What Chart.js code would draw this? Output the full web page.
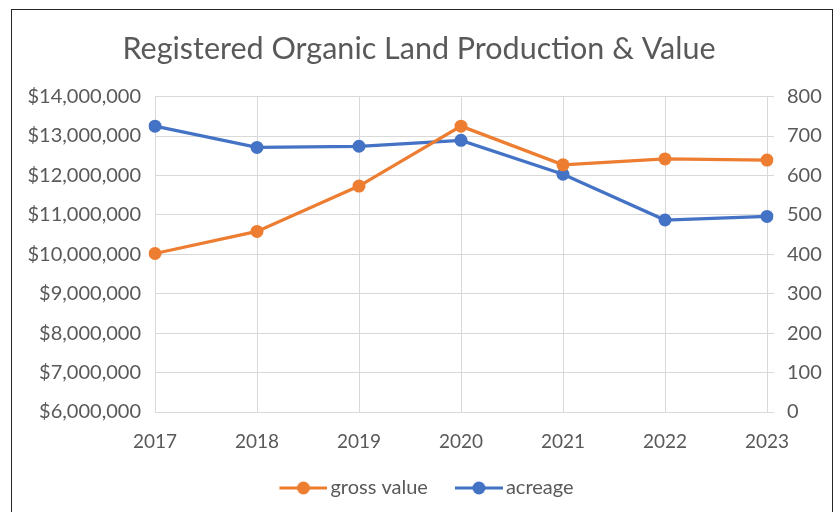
<!DOCTYPE html>
<html>
<head>
<meta charset="utf-8">
<script src="https://cdn.jsdelivr.net/npm/chart.js@4.4.1/dist/chart.umd.min.js"></script>
<style>
    html, body { margin: 0; padding: 0; background: #fff; }
    #wrap { position: relative; width: 838px; height: 512px; overflow: hidden; }
    #frame { position: absolute; left: 11px; top: 9px; width: 820px; height: 600px; border: 1px solid #262626; pointer-events: none; }
    canvas { position: absolute; left: 0; top: 0; }
</style>
</head>
<body>
<div id="wrap">
    <canvas id="chart" width="838" height="512"></canvas>
    <div id="frame"></div>
</div>
<script>
const years = ['2017', '2018', '2019', '2020', '2021', '2022', '2023'];
const grossValue = [10020000, 10580000, 11730000, 13250000, 12270000, 12420000, 12390000];
const acreage = [725, 671, 674, 689, 603, 487, 496];
const valueTicks = [6000000, 7000000, 8000000, 9000000, 10000000, 11000000, 12000000, 13000000, 14000000];
const acreTicks = [0, 100, 200, 300, 400, 500, 600, 700, 800];

const ORANGE = '#ED7D31';
const BLUE = '#4472C4';
const TEXT = '#595959';
const GRID = '#D9D9D9';
const FONT = 'Lato, "Open Sans", sans-serif';

// legend sample: short line with a dot, drawn with a blank margin on the left
function legendIcon(color) {
    const c = document.createElement('canvas');
    c.width = 60;
    c.height = 14;
    const ctx = c.getContext('2d');
    ctx.strokeStyle = color;
    ctx.lineWidth = 3;
    ctx.beginPath();
    ctx.moveTo(12, 7);
    ctx.lineTo(60, 7);
    ctx.stroke();
    ctx.fillStyle = color;
    ctx.beginPath();
    ctx.arc(36, 7, 6.5, 0, Math.PI * 2);
    ctx.fill();
    return c;
}

const icons = [legendIcon(ORANGE), legendIcon(BLUE)];

// nudge the legend row a little to the right
const legendShift = {
    id: 'legendShift',
    afterLayout(chart) {
        chart.legend.left += 5;
        chart.legend.right += 5;
    }
};

new Chart(document.getElementById('chart'), {
    type: 'line',
    data: {
        labels: years,
        datasets: [{
            label: 'gross value',
            data: grossValue,
            yAxisID: 'y',
            borderColor: ORANGE,
            backgroundColor: ORANGE,
            borderWidth: 3.25,
            pointRadius: 6.5,
            pointBorderWidth: 0,
            tension: 0
        }, {
            label: 'acreage',
            data: acreage,
            yAxisID: 'y1',
            borderColor: BLUE,
            backgroundColor: BLUE,
            borderWidth: 3.25,
            pointRadius: 6.5,
            pointBorderWidth: 0,
            tension: 0
        }]
    },
    plugins: [legendShift],
    options: {
        responsive: false,
        animation: false,
        layout: { padding: { left: 0, right: 0, top: 0, bottom: 4 } },
        plugins: {
            title: {
                display: true,
                text: 'Registered Organic Land Production & Value',
                color: TEXT,
                font: { family: FONT, size: 30.5, weight: 'normal' },
                padding: { top: 31, bottom: 29 }
            },
            legend: {
                position: 'bottom',
                labels: {
                    color: TEXT,
                    font: { family: FONT, size: 20 },
                    usePointStyle: true,
                    pointStyleWidth: 46,
                    padding: 22,
                    generateLabels: function (chart) {
                        const items = Chart.defaults.plugins.legend.labels.generateLabels(chart);
                        items.forEach(it => { it.pointStyle = icons[it.datasetIndex]; });
                        return items;
                    }
                }
            },
            tooltip: { enabled: false }
        },
        scales: {
            x: {
                offset: false,
                afterFit: s => { s.height = 44; },
                grid: { color: GRID, lineWidth: 1, drawTicks: false },
                border: { color: GRID },
                ticks: { color: TEXT, font: { family: FONT, size: 19 }, padding: 18, maxRotation: 0 }
            },
            y: {
                position: 'left',
                min: 6000000,
                max: 14000000,
                afterBuildTicks: s => { s.ticks = valueTicks.map(v => ({ value: v })); },
                afterFit: s => { s.width = 155; },
                grid: { color: GRID, lineWidth: 1, drawTicks: false },
                border: { display: false },
                ticks: {
                    color: TEXT,
                    font: { family: FONT, size: 20 },
                    padding: 14,
                    callback: v => '$' + v.toLocaleString('en-US')
                }
            },
            y1: {
                position: 'right',
                min: 0,
                max: 800,
                afterBuildTicks: s => { s.ticks = acreTicks.map(v => ({ value: v })); },
                afterFit: s => { s.width = 71; },
                grid: { drawOnChartArea: false, color: GRID, tickLength: 7 },
                border: { color: GRID },
                ticks: { color: TEXT, font: { family: FONT, size: 20 }, padding: 13 }
            }
        }
    }
});
</script>
</body>
</html>
